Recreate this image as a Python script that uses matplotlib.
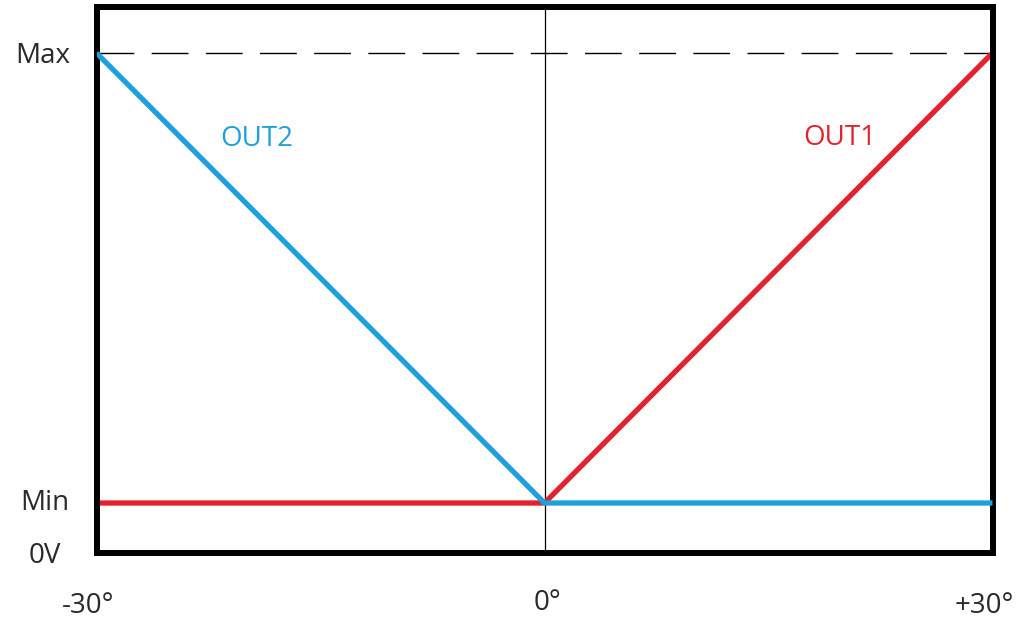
import matplotlib
matplotlib.use('Agg')
import matplotlib.pyplot as plt

plt.rcParams['font.family'] = ['Open Sans', 'DejaVu Sans']

# angle positions (deg) and output levels (0V = 0, Min = 1, Max = 10)
angles = [-30, 0, 30]
out1 = [1, 1, 10]
out2 = [10, 1, 1]
level_ticks = [10, 1, 0]
level_labels = ['Max', 'Min', '0V']
angle_labels = ['-30°', '0°', '+30°']

blue = '#1ea0dc'
red = '#e2222c'
txt = '#2a2a2a'

fig = plt.figure(figsize=(10.24, 6.23), dpi=100)
ax = fig.add_axes([96.5 / 1024, 70 / 623, 896 / 1024, 546 / 623])

ax.axhline(level_ticks[0], color='black', lw=1.0, dashes=(26.5, 12.5), zorder=1)
ax.axvline(angles[1], color='black', lw=0.9, zorder=1)

ax.plot(angles, out1, color=red, lw=3.8, solid_capstyle='butt', zorder=2)
ax.plot(angles, out2, color=blue, lw=3.8, solid_capstyle='butt', zorder=3)

ax.text(-19.3, 8.28, 'OUT2', color=blue, fontsize=20, ha='center', va='center')
ax.text(19.8, 8.3, 'OUT1', color=red, fontsize=20, ha='center', va='center')

ax.set_xlim(-30, 30)
ax.set_ylim(0, 10.92)
ax.set_xticks([])
ax.set_yticks([])

# axis labels placed by hand, as in the sketch
y_offsets = [(-54, -3), (-52, 0), (-52, -3)]
for lv, lab, off in zip(level_ticks, level_labels, y_offsets):
    ax.annotate(lab, xy=(0, lv), xycoords=('axes fraction', 'data'),
                xytext=off, textcoords='offset pixels',
                ha='center', va='center', fontsize=20, color=txt)

x_offsets = [(-8, -53), (3, -50), (-8, -53)]
for a, lab, off in zip(angles, angle_labels, x_offsets):
    ax.annotate(lab, xy=(a, 0), xycoords=('data', 'axes fraction'),
                xytext=off, textcoords='offset pixels',
                ha='center', va='center', fontsize=20, color=txt,
                annotation_clip=False)

for s in ax.spines.values():
    s.set_linewidth(4.3)
    s.set_color('black')

fig.savefig('out.png', dpi=100)
